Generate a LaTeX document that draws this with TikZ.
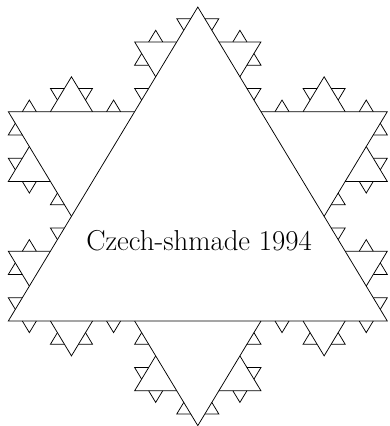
\documentclass[tikz,border=0pt]{standalone}
\usepackage{tikz}
\tikzset{kline/.style={line width=0.75pt, black}}
\newcommand{\kochseg}[5]{\edef\kochtmp{\noexpand\kochsegx{#1}{#2}{#3}{#4}{#5}}\kochtmp}
\newcommand{\kochsegx}[5]{%
  \ifnum#5>0\relax
  \begingroup
    \pgfmathsetmacro\kdx{#3-#1}%
    \pgfmathsetmacro\kdy{#4-#2}%
    \pgfmathsetmacro\kax{#1+\kdx/3}%
    \pgfmathsetmacro\kay{#2+\kdy/3}%
    \pgfmathsetmacro\kbx{#1+2*\kdx/3}%
    \pgfmathsetmacro\kby{#2+2*\kdy/3}%
    \pgfmathsetmacro\kcx{#1+\kdx/2+\kdy*0.288675}%
    \pgfmathsetmacro\kcy{#2+\kdy/2-\kdx*0.288675}%
    \draw[kline] (\kax pt,\kay pt) -- (\kcx pt,\kcy pt) -- (\kbx pt,\kby pt);
    \pgfmathtruncatemacro\knext{#5-1}%
    \kochseg{#1}{#2}{\kax}{\kay}{\knext}%
    \kochseg{\kax}{\kay}{\kcx}{\kcy}{\knext}%
    \kochseg{\kcx}{\kcy}{\kbx}{\kby}{\knext}%
    \kochseg{\kbx}{\kby}{#3}{#4}{\knext}%
  \endgroup
  \fi}
\begin{document}
\begin{tikzpicture}
\useasboundingbox (0,0) rectangle (390pt,426pt);
\begin{scope}[shift={(8.3pt,105pt)},yscale=0.9566]
  \coordinate (B) at (0pt,0pt);
  \coordinate (C) at (379pt,0pt);
  \coordinate (A) at (189.5pt,328.2336pt);
  \draw[kline] (B) -- (C) -- (A) -- cycle;
  \kochseg{0}{0}{379}{0}{3}
  \kochseg{379}{0}{189.5}{328.2336}{3}
  \kochseg{189.5}{328.2336}{0}{0}{3}
\end{scope}
\node[font=\fontsize{28.8}{33}\selectfont, anchor=base, inner sep=0pt] (t) at (199pt,175.5pt) {Czech-shmade 1994};
\end{tikzpicture}
\end{document}
